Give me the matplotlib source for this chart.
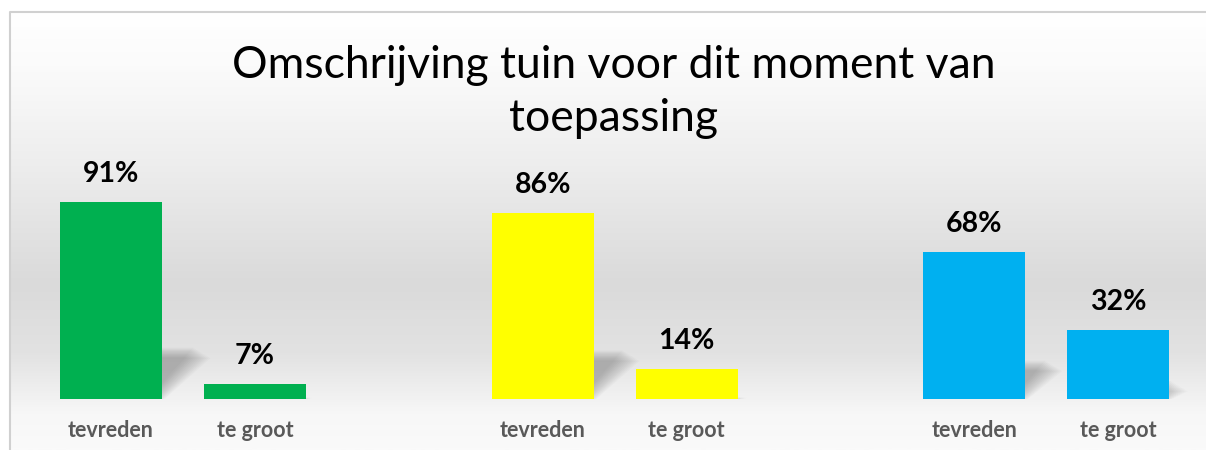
"""
Omschrijving tuin voor dit moment van toepassing - grouped bars
"""
import numpy as np
import matplotlib
matplotlib.use("Agg")
import matplotlib.pyplot as plt
from matplotlib.patches import Polygon
from matplotlib.colors import LinearSegmentedColormap

# data
answers = ["tevreden", "te groot", "tevreden", "te groot", "tevreden", "te groot"]
values = [91, 7, 86, 14, 68, 32]
positions = [0, 1, 3, 4, 6, 7]
bar_colors = ["#00b050", "#00b050", "#ffff00", "#ffff00", "#00b0f0", "#00b0f0"]
title_lines = ["Omschrijving tuin voor dit moment van", "toepassing"]

W, H = 1206, 450
FONT = "Lato"

fig = plt.figure(figsize=(W / 100, H / 100), dpi=100)
fig.patch.set_facecolor("white")

# background with the soft grey band
bg = fig.add_axes([0, 0, 1, 1], zorder=-5)
bg.set_xlim(0, W)
bg.set_ylim(H, 0)
bg.axis("off")
grad = LinearSegmentedColormap.from_list(
    "bg", [(0.0, "#ffffff"), (0.12, "#fbfbfb"), (0.35, "#ededed"),
           (0.62, "#dadada"), (0.78, "#e2e2e2"), (0.92, "#f7f7f7"), (1.0, "#fafafa")])
ys = np.linspace(0, 1, 300).reshape(-1, 1)
bg.imshow(ys, cmap=grad, extent=(10, W, H, 12), aspect="auto", interpolation="bilinear")
bg.plot([10, 10, W], [H, 12, 12], color="#d0d0d0", lw=1.5)

# main axes: baseline at 399 px from top, 100% = 216.5 px
unit = 143.9
x0 = 111
ax = fig.add_axes([0, (H - 399) / H, 1, 216.5 / H])
ax.set_xlim(-x0 / unit, (W - x0) / unit)
ax.set_ylim(0, 100)
ax.axis("off")
ax.patch.set_alpha(0)

bw = 102 / unit
px_y = 100 / 216.5  # data units per pixel in y

# soft perspective shadows
for x, v in zip(positions, values):
    hs = 0.26 * v
    dx = hs / px_y / unit * 0.9
    for k in range(14):
        g = k * 1.3
        xl = x - bw / 2 + 0.05 + g / unit
        xr = x + bw / 2 - 0.1 + g / unit
        top = max(hs - g * px_y * 0.6, 0.5)
        poly = Polygon([(xl, 0), (xr, 0), (xr + dx, top), (xl + dx, top)],
                       closed=True, facecolor="#606060", edgecolor="none",
                       alpha=0.035, zorder=1)
        ax.add_patch(poly)

bars = ax.bar(positions, values, width=bw, color=bar_colors, zorder=3)

for x, v, lab in zip(positions, values, answers):
    ax.annotate(f"{v}%", (x, v), xytext=(0, 14.5), textcoords="offset points",
                ha="center", va="baseline", fontsize=20.5, fontweight="bold",
                color="black", family=FONT, zorder=4)
    ax.annotate(lab, (x, 0), xytext=(0, -27.5),
                textcoords="offset points", ha="center", va="baseline",
                fontsize=15.5, fontweight="bold", color="#595959", family=FONT)

fig.text(614 / W, 1 - 78 / H, title_lines[0], ha="center",
         va="baseline", fontsize=32, color="black", family=FONT)
fig.text(614 / W, 1 - 131 / H, title_lines[1], ha="center",
         va="baseline", fontsize=32, color="black", family=FONT)

fig.savefig("out.png", dpi=100)
